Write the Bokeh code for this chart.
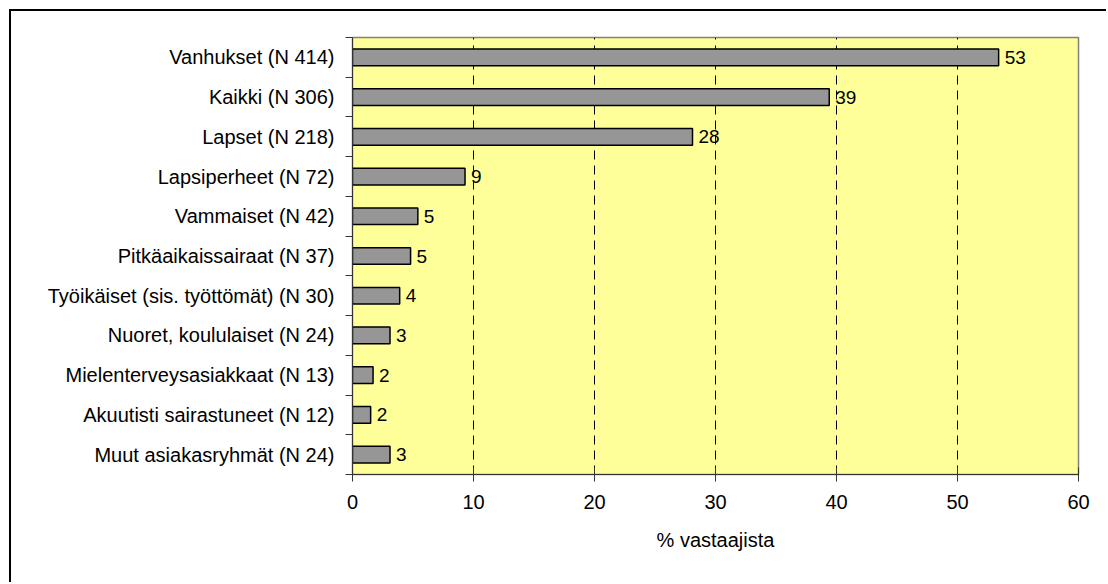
from bokeh.plotting import figure
from bokeh.models import ColumnDataSource, FixedTicker, Range1d, LabelSet
from bokeh.core.properties import value
from bokeh.embed import file_html
from bokeh.resources import INLINE

# Respondent groups (top to bottom) and share of respondents, %
groups = [
    "Vanhukset (N 414)",
    "Kaikki (N 306)",
    "Lapset (N 218)",
    "Lapsiperheet (N 72)",
    "Vammaiset (N 42)",
    "Pitkäaikaissairaat (N 37)",
    "Työikäiset (sis. työttömät) (N 30)",
    "Nuoret, koululaiset (N 24)",
    "Mielenterveysasiakkaat (N 13)",
    "Akuutisti sairastuneet (N 12)",
    "Muut asiakasryhmät (N 24)",
]
shares = [53.4, 39.4, 28.1, 9.3, 5.4, 4.8, 3.9, 3.1, 1.7, 1.5, 3.1]
x_ticks = [0, 10, 20, 30, 40, 50, 60]
x_label = "% vastaajista"

FONT = "Liberation Sans"
n = len(groups)
ypos = [n - i - 0.5 for i in range(n)]
labels = [f"{v:.0f}" for v in shares]

src = ColumnDataSource(dict(y=ypos, share=shares, label=labels))

p = figure(width=1097, height=573, output_backend="svg", toolbar_location=None,
           x_range=Range1d(0, 60), y_range=Range1d(0, n),
           min_border_left=341, min_border_right=30,
           min_border_top=26, min_border_bottom=110)

# outer chart border (top and left edges visible inside the page)
p.styles = {"margin-left": "9px", "margin-top": "9px",
            "border-left": "2px solid black", "border-top": "2px solid black"}

p.background_fill_color = "#FFFF99"
p.border_fill_color = "white"
p.outline_line_color = "#808080"
p.outline_line_width = 1.5

p.hbar(y="y", right="share", left=0, height=0.42, source=src,
       fill_color="#969696", line_color="black", line_width=1.5)

p.add_layout(LabelSet(x="share", y="y", text="label", source=src,
                      x_offset=6, text_align="left", text_baseline="middle",
                      text_font=value(FONT), text_font_size="19px",
                      text_color="black"))

# x axis
p.xaxis.ticker = FixedTicker(ticks=x_ticks)
p.xaxis.axis_label = x_label
p.xaxis.axis_label_text_font = FONT
p.xaxis.axis_label_text_font_size = "20px"
p.xaxis.axis_label_text_font_style = "normal"
p.xaxis.axis_label_text_color = "black"
p.xaxis.axis_label_standoff = 17
p.xaxis.major_label_text_font = FONT
p.xaxis.major_label_text_font_size = "20px"
p.xaxis.major_label_text_color = "black"
p.xaxis.major_label_standoff = 13
p.xaxis.major_tick_in = 7
p.xaxis.major_tick_out = 7
p.xaxis.minor_tick_line_color = None
p.xaxis.axis_line_color = "#333333"
p.xaxis.major_tick_line_color = "#333333"

# y axis: group names at the centres, ticks at the group boundaries
p.yaxis.ticker = FixedTicker(ticks=ypos, minor_ticks=list(range(n + 1)))
p.yaxis.major_label_overrides = {y: g for y, g in zip(ypos, groups)}
p.yaxis.major_label_text_font = FONT
p.yaxis.major_label_text_font_size = "20px"
p.yaxis.major_label_text_color = "black"
p.yaxis.major_label_standoff = 11
p.yaxis.major_tick_in = 0
p.yaxis.major_tick_out = 0
p.yaxis.minor_tick_in = 0
p.yaxis.minor_tick_out = 7
p.yaxis.minor_tick_line_color = "#333333"
p.yaxis.axis_line_color = "#333333"

# vertical dashed gridlines
p.xgrid.ticker = FixedTicker(ticks=x_ticks[1:-1])
p.xgrid.grid_line_color = "black"
p.xgrid.grid_line_dash = "9 6"
p.xgrid.grid_line_width = 1
p.ygrid.grid_line_color = None

open("out.html", "w").write(file_html(p, INLINE))
